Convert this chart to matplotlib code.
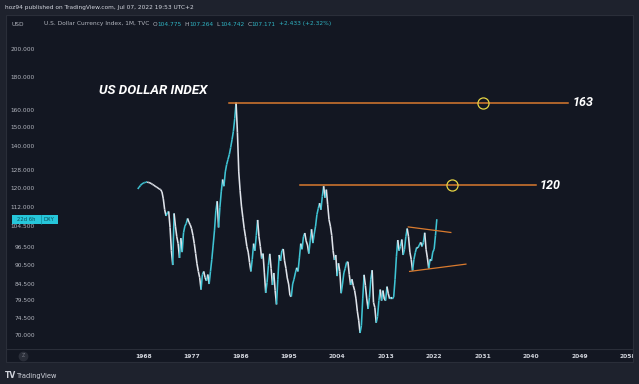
import numpy as np
import matplotlib.pyplot as plt
from matplotlib.collections import LineCollection
from matplotlib.patches import Rectangle

# DXY quarterly closes, 1967 Q1 -> 2022 Q3
dxy = [
    119.8, 120.5, 121.3, 122.0,   # 1967
    122.3, 122.6, 122.8, 122.8,   # 1968
    122.7, 122.5, 122.2, 121.8,   # 1969
    121.4, 121.0, 120.6, 120.2,   # 1970
    119.8, 119.5, 118.5, 115.5,   # 1971
    111.0, 108.5, 109.8, 110.3,   # 1972
    104.0, 95.5, 90.6, 109.5,     # 1973
    104.5, 100.5, 98.0, 93.0,     # 1974
    100.0, 95.0, 102.0, 104.5,    # 1975
    105.5, 107.5, 106.0, 105.0,   # 1976
    103.5, 101.0, 98.0, 94.5,     # 1977
    91.0, 88.5, 86.5, 82.8,       # 1978
    87.5, 88.5, 86.5, 85.5,       # 1979
    87.5, 84.5, 88.5, 92.5,       # 1980
    97.5, 103.0, 110.5, 114.5,    # 1981
    104.0, 112.0, 118.5, 124.0,   # 1982
    121.0, 127.5, 131.0, 133.5,   # 1983
    136.0, 139.5, 143.5, 148.0,   # 1984
    155.0, 164.5, 147.5, 127.5,   # 1985
    119.0, 112.5, 108.0, 103.7,   # 1986
    100.5, 97.0, 95.0, 91.5,      # 1987
    88.5, 92.5, 98.0, 95.5,       # 1988
    101.0, 106.9, 100.5, 97.0,    # 1989
    92.8, 94.5, 88.0, 81.8,       # 1990
    85.0, 90.5, 94.4, 89.5,       # 1991
    84.2, 88.0, 82.5, 78.4,       # 1992
    86.0, 94.0, 92.0, 95.5,       # 1993
    96.1, 92.0, 89.5, 86.4,       # 1994
    84.5, 81.0, 80.7, 84.5,       # 1995
    86.0, 88.0, 89.7, 88.5,       # 1996
    93.0, 98.0, 96.0, 100.5,      # 1997
    101.9, 99.0, 97.5, 94.5,      # 1998
    99.0, 103.3, 98.2, 101.5,     # 1999
    104.5, 109.0, 111.5, 113.7,   # 2000
    111.0, 116.5, 121.0, 116.0,   # 2001
    119.5, 113.0, 107.0, 104.5,   # 2002
    101.0, 95.5, 92.3, 94.0,      # 2003
    87.0, 91.2, 88.5, 81.7,       # 2004
    84.5, 88.0, 89.5, 91.5,       # 2005
    91.7, 87.5, 84.2, 86.0,       # 2006
    84.0, 82.5, 80.0, 76.5,       # 2007
    74.0, 70.6, 72.5, 80.0,       # 2008
    87.4, 84.0, 80.0, 77.1,       # 2009
    80.5, 86.0, 88.9, 79.0,       # 2010
    77.5, 73.3, 75.0, 79.5,       # 2011
    82.8, 79.5, 82.5, 80.0,       # 2012
    79.5, 83.7, 81.5, 80.0,       # 2013
    80.5, 80.0, 80.6, 86.0,       # 2014
    93.4, 99.3, 95.5, 97.0,       # 2015
    99.5, 94.0, 96.0, 100.5,      # 2016
    103.6, 100.5, 95.0, 92.5,     # 2017
    88.8, 92.5, 94.8, 96.6,       # 2018
    96.5, 97.5, 98.5, 97.0,       # 2019
    98.4, 102.0, 96.0, 93.0,      # 2020
    89.5, 92.5, 92.0, 95.0,       # 2021
    96.0, 101.0, 107.2,           # 2022
]
years = 1967.0 + 0.25 * np.arange(len(dxy))

# horizontal resistance levels drawn by the author
res_level = [164.5, 121.5]
res_label = ['163', '120']
res_start = [1983.9, 1997.1]
res_end = [2046.9, 2040.9]
circle_year = [2031.0, 2025.4]

# flag / wedge lines
flag_up_x = [2017.2, 2025.1]
flag_up_y = [104.2, 102.1]
flag_lo_x = [2017.45, 2027.9]
flag_lo_y = [88.5, 90.9]

y_ticks = [200, 180, 160, 150, 140, 128, 120, 112, 104.5, 96.5, 90.5, 84.5, 79.5, 74.5, 70]
x_ticks = [1968, 1977, 1986, 1995, 2004, 2013, 2022, 2031, 2040, 2049, 2058]
last_price = 107.171
ohlc_names = ['O', 'H', 'L', 'C']
ohlc_vals = ['104.775', '107.264', '104.742', '107.171']

W, H = 639, 384
def fx(x):
    return x / W
def fy(y):
    return 1 - y / H

BG = '#1e222d'
PANEL = '#131722'
GRID = '#2a2e39'
UP = '#3fc4d4'
DOWN = '#dfe3ea'
ORANGE = '#d97a2e'
TEAL = '#2fb3c2'
GREY = '#b2b5be'

fig = plt.figure(figsize=(W / 100, H / 100), dpi=100, facecolor=BG)
fig.add_artist(Rectangle((fx(6), fy(362)), fx(627), 347 / H, transform=fig.transFigure,
                         facecolor=PANEL, edgecolor=GRID, lw=0.8, zorder=0))

ax = fig.add_axes([fx(6), fy(349), fx(627), 317 / H])
ax.set_facecolor('none')
ax.set_yscale('log')
ax.set_xlim(1942.56, 2058.9)
ax.set_ylim(66.57, 213.1)
ax.set_xticks([])
ax.set_yticks([])
ax.minorticks_off()
for s in ax.spines.values():
    s.set_visible(False)

# price line, coloured by direction
pts = np.column_stack([years, dxy])
segs = np.stack([pts[:-1], pts[1:]], axis=1)
cols = [UP if b >= a else DOWN for a, b in zip(dxy[:-1], dxy[1:])]
ax.add_collection(LineCollection(segs, colors=cols, linewidths=1.15, zorder=3))

# resistance lines with circles and labels
for lvl, lab, x0, x1, xc in zip(res_level, res_label, res_start, res_end, circle_year):
    ax.plot([x0, x1], [lvl, lvl], color=ORANGE, lw=1.1, zorder=4)
    ax.plot([xc], [lvl], marker='o', ms=8, mfc='none', mec='#e6d443', mew=0.9, zorder=5)
    ax.text(x1 + 0.7, lvl, lab, color='white', fontsize=9, fontweight='bold', style='italic',
            family=['Roboto', 'DejaVu Sans'], ha='left', va='center', zorder=5)

ax.plot(flag_up_x, flag_up_y, color=ORANGE, lw=0.9, zorder=4)
ax.plot(flag_lo_x, flag_lo_y, color=ORANGE, lw=0.9, zorder=4)

ax.text((99 - 6) / 627, 1 - (90 - 32) / 317, 'US DOLLAR INDEX', transform=ax.transAxes,
        color='white', fontsize=9.6, fontweight='bold', style='italic',
        family=['Roboto', 'DejaVu Sans'], ha='left', va='center')

# y axis labels on the left
ytr = ax.get_yaxis_transform()
for v in y_ticks:
    ax.text((35 - 6) / 627, v, f'{v:.3f}', transform=ytr, color=GREY, fontsize=4.2,
            ha='right', va='center', zorder=2)

# current price badge
lo, hi = last_price * np.exp(-4.6 / 272.4), last_price * np.exp(4.6 / 272.4)
ax.add_patch(Rectangle(((12 - 6) / 627, lo), 46 / 627, hi - lo, transform=ytr,
                       facecolor='#26c6da', edgecolor='none', zorder=6))
ax.plot([(40.7 - 6) / 627] * 2, [lo, hi], transform=ytr, color='#138a99', lw=0.5, zorder=7)
ax.text((26.3 - 6) / 627, last_price, '22d 6h', transform=ytr, color='#0b4f5a', fontsize=3.8,
        ha='center', va='center', zorder=7)
ax.text((49.4 - 6) / 627, last_price, 'DXY', transform=ytr, color='#0b4f5a', fontsize=3.8,
        ha='center', va='center', zorder=7)

# x axis band
bx = fig.add_axes([fx(6), fy(362), fx(627), 13 / H])
bx.set_facecolor('none')
bx.set_xlim(ax.get_xlim())
bx.set_ylim(0, 1)
bx.set_xticks([])
bx.set_yticks([])
for s in bx.spines.values():
    s.set_visible(False)
bx.axhline(1, color=GRID, lw=0.8)
for yr in x_ticks:
    bx.text(yr, 0.45, str(yr), color='#d1d4dc', fontsize=4.3, fontweight='bold',
            ha='center', va='center', clip_on=True)
bx.plot([(23 - 6) / 627], [0.5], transform=bx.transAxes, marker='o', ms=6,
        color=GRID, zorder=3)
bx.text((23 - 6) / 627, 0.5, 'Z', transform=bx.transAxes, color='#787b86', fontsize=3.3,
        ha='center', va='center', zorder=4)

# header
fig.text(fx(5), fy(8), 'hoz94 published on TradingView.com, Jul 07, 2022 19:53 UTC+2',
         color='#d1d4dc', fontsize=4.2, va='center')
fig.text(fx(11), fy(24), 'USD', color=GREY, fontsize=4.2, va='center')
fig.text(fx(44), fy(24), 'U.S. Dollar Currency Index, 1M, TVC', color=GREY, fontsize=4.2,
         va='center')
prev = fig.text(fx(152.3), fy(24), ohlc_names[0], color=GREY, fontsize=4.2, va='center')
for i, (name, val) in enumerate(zip(ohlc_names, ohlc_vals)):
    if i > 0:
        prev = ax.annotate(name, xy=(1, 0.5), xycoords=prev, xytext=(2.2, 0),
                           textcoords='offset points', color=GREY, fontsize=4.2,
                           ha='left', va='center', annotation_clip=False)
    prev = ax.annotate(val, xy=(1, 0.5), xycoords=prev, xytext=(0.2, 0),
                       textcoords='offset points', color=TEAL, fontsize=4.2,
                       ha='left', va='center', annotation_clip=False)
ax.annotate('+2.433 (+2.32%)', xy=(1, 0.5), xycoords=prev, xytext=(2.2, 0),
            textcoords='offset points', color=TEAL, fontsize=4.2,
            ha='left', va='center', annotation_clip=False)

# footer logo
fig.text(fx(5), fy(376), 'TV', color='#d1d4dc', fontsize=5.5, fontweight='bold', va='center')
fig.text(fx(17), fy(376), 'TradingView', color='#d1d4dc', fontsize=4.8, va='center')

plt.savefig('out.png', dpi=100, facecolor=BG)
